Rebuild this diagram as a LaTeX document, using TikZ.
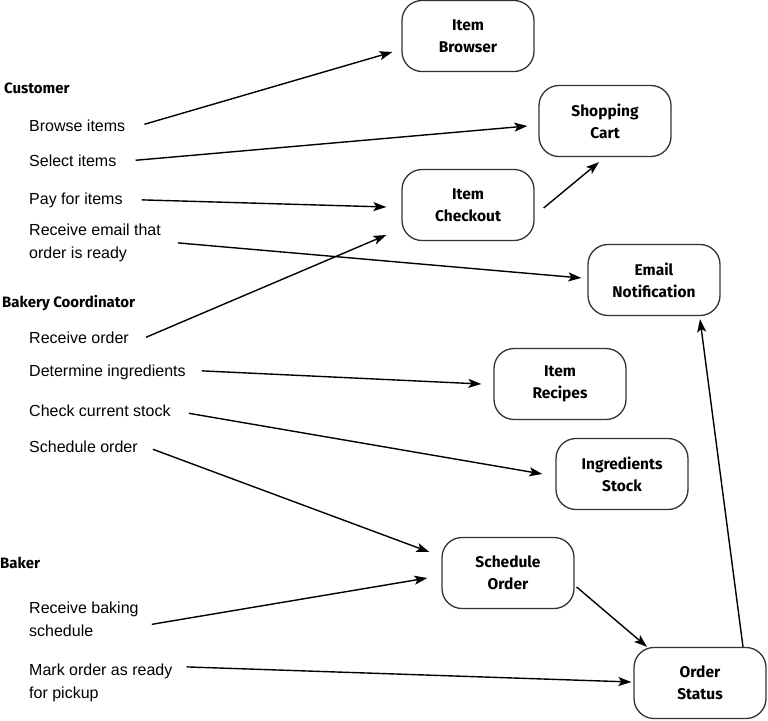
\documentclass[tikz,border=0pt]{standalone}
\usepackage{fontspec}
\setmainfont{Liberation Sans}
\newfontfamily\boxfont{Fira Sans}
\usetikzlibrary{arrows.meta}
\definecolor{boxline}{HTML}{333333}
\tikzset{
  sysbox/.style={draw=boxline, line width=1.3pt, rounded corners=20pt,
    minimum width=132pt, minimum height=71pt, align=center, inner sep=0pt,
    font=\boxfont\bfseries\fontsize{15.5}{22}\selectfont},
  head/.style={anchor=base west, inner sep=0pt, font=\boxfont\bfseries\fontsize{15}{18}\selectfont},
  item/.style={anchor=base west, inner sep=0pt, font=\fontsize{16}{23}\selectfont},
  item2/.style={anchor=north west, inner sep=0pt, align=left, font=\fontsize{16}{22.5}\selectfont},
  flow/.style={line width=1.4pt, -{Stealth[length=13pt,width=9pt,inset=3pt]}}
}
\begin{document}
\begin{tikzpicture}[x=1pt,y=-1pt]
\useasboundingbox (0,0) rectangle (768,720);
% boxes
\node[sysbox] (ib) at (468,36) {Item\\Browser};
\node[sysbox] (sc) at (605,121) {Shopping\\Cart};
\node[sysbox] (ic) at (468,205) {Item\\Checkout};
\node[sysbox] (en) at (654,280) {Email\\Notification};
\node[sysbox] (ir) at (560,384) {Item\\Recipes};
\node[sysbox] (is) at (622,474) {Ingredients\\Stock};
\node[sysbox] (so) at (508,573) {Schedule\\Order};
\node[sysbox] (os) at (700,683) {Order\\Status};
% headings
\node[head] (hc) at (4,93) {Customer};
\node[head] (hb) at (2,307) {Bakery Coordinator};
\node[head] (hk) at (0,568) {Baker};
% tasks
\node[item] (t1) at (29,131) {Browse items};
\node[item] (t2) at (29,166) {Select items};
\node[item] (t3) at (29,204) {Pay for items};
\node[item2] (t4) at (29,224) {Receive email that\\order is ready};
\node[item] (t5) at (29,343) {Receive order};
\node[item] (t6) at (29,376) {Determine ingredients};
\node[item] (t7) at (29,416) {Check current stock};
\node[item] (t8) at (29,452) {Schedule order};
\node[item2] (t9) at (29,602) {Receive baking\\schedule};
\node[item2] (t10) at (29,664) {Mark order as ready\\for pickup};
% connectors
\draw[flow] ([xshift=19pt,yshift=1pt]t1.east) -- ([xshift=-9pt,yshift=-16pt]ib.west);
\draw[flow] ([xshift=19pt]t2.east) -- ([xshift=-11pt,yshift=-5pt]sc.west);
\draw[flow] ([xshift=19pt]t3.east) -- ([xshift=-15pt,yshift=-2pt]ic.west);
\draw[flow] ([xshift=17pt]t4.east) -- ([xshift=-6pt,yshift=2pt]en.west);
\draw[flow] ([xshift=17pt]t5.east) -- ([xshift=-15pt,yshift=-30pt]ic.west);
\draw[flow] ([xshift=9pt,yshift=-3pt]ic.east) -- ([xshift=-6pt,yshift=-5pt]sc.south);
\draw[flow] ([xshift=16pt,yshift=1pt]t6.east) -- ([xshift=-12pt]ir.west);
\draw[flow] ([xshift=18pt,yshift=-3pt]t7.east) -- ([xshift=-13pt]is.west);
\draw[flow] ([xshift=15pt,yshift=-3pt]t8.east) -- ([xshift=-12pt,yshift=21pt]so.west);
\draw[flow] ([xshift=13pt,yshift=-5pt]t9.east) -- ([xshift=-14pt,yshift=-5pt]so.west);
\draw[flow] ([xshift=2pt,yshift=-14pt]so.east) -- ([xshift=-53pt]os.north);
\draw[flow] ([xshift=14pt,yshift=16pt]t10.east) -- ([xshift=-2pt,yshift=1pt]os.west);
\draw[flow] ([xshift=43pt]os.north) -- ([xshift=46pt,yshift=-3pt]en.south);
\end{tikzpicture}
\end{document}
